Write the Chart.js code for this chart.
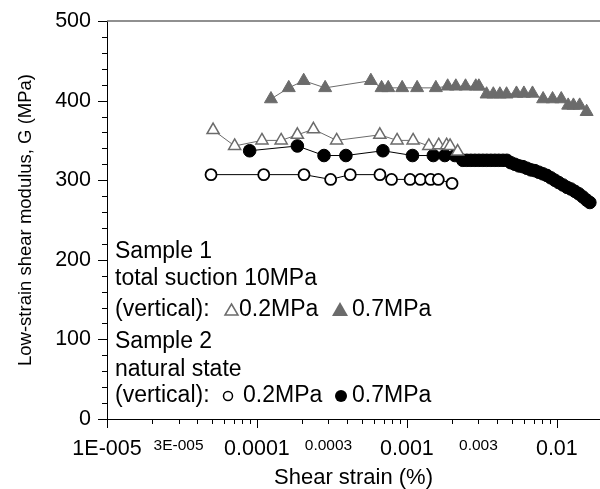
<!DOCTYPE html>
<html>
<head>
<meta charset="utf-8">
<script src="https://cdn.jsdelivr.net/npm/chart.js@4.4.0/dist/chart.umd.min.js"></script>
<style>
  body { margin: 0; background: #fff; }
  canvas { display: block; }
</style>
</head>
<body>
<canvas id="shearChart" width="600" height="489"></canvas>
<script>

// Sample 1, total suction 10MPa, vertical 0.2MPa (open triangles)
const s1LowStrain = [5.1e-5, 7.1e-5, 1.08e-4, 1.45e-4, 1.86e-4, 2.38e-4, 3.4e-4, 6.6e-4, 8.6e-4, 1.1e-3, 1.4e-3, 1.63e-3, 1.84e-3, 1.94e-3, 2.18e-3];
const s1LowG = [363, 343, 350, 350, 357, 364, 350, 357, 350, 350, 343, 344, 344, 343, 336];

// Sample 1, vertical 0.7MPa (filled triangles)
const s1HighStrain = [1.24e-4, 1.63e-4, 2.05e-4, 2.85e-4, 5.75e-4, 6.78e-4, 7.51e-4, 9.3e-4, 1.17e-3, 1.56e-3, 1.87e-3, 2.12e-3, 2.46e-3, 2.88e-3, 3.02e-3, 3.4e-3, 3.77e-3, 4.17e-3, 4.62e-3, 5.38e-3, 6.03e-3, 6.88e-3, 8.1e-3, 9.36e-3, 1.07e-2, 1.19e-2, 1.29e-2, 1.42e-2, 1.58e-2];
const s1HighG = [402, 416, 425, 416, 425, 416, 416, 416, 416, 416, 418, 418, 418, 418, 418, 408, 408, 408, 408, 409, 409, 409, 402, 402, 402, 394, 394, 394, 386];

// Sample 2, natural state, vertical 0.2MPa (open circles)
const s2LowStrain = [4.94e-5, 1.11e-4, 2.06e-4, 3.1e-4, 4.19e-4, 6.61e-4, 7.9e-4, 1.05e-3, 1.23e-3, 1.44e-3, 1.62e-3, 2.0e-3];
const s2LowG = [307, 307, 307, 301, 307, 307, 301, 301, 301, 301, 301, 296];

// Sample 2, vertical 0.7MPa (filled circles)
const s2HighStrain = [8.94e-5, 1.86e-4, 2.8e-4, 3.92e-4, 6.92e-4, 1.09e-3, 1.5e-3, 1.79e-3, 2.09e-3,
  2.36e-3, 2.51e-3, 2.67e-3, 2.84e-3, 3.02e-3, 3.21e-3, 3.41e-3, 3.63e-3, 3.86e-3, 4.1e-3, 4.37e-3, 4.64e-3,
  4.93e-3, 5.25e-3, 5.58e-3, 5.93e-3, 6.31e-3, 6.71e-3, 7.13e-3, 7.59e-3, 8.07e-3, 8.58e-3, 9.12e-3, 9.7e-3,
  1.03e-2, 1.1e-2, 1.17e-2, 1.24e-2, 1.32e-2, 1.4e-2, 1.49e-2, 1.58e-2, 1.66e-2];
const s2HighG = [337, 343, 331, 331, 337, 331, 331, 331, 331,
  325, 325, 325, 325, 325, 325, 325, 325, 325, 325, 325, 325,
  322, 320, 318, 317, 315, 313, 312, 310, 308, 306, 303, 300,
  297, 294, 291, 289, 286, 283, 279, 275, 272];

const xTickValues = [1e-5, 3e-5, 1e-4, 3e-4, 1e-3, 3e-3, 1e-2];
const xTickLabels = ['1E-005', '3E-005', '0.0001', '0.0003', '0.001', '0.003', '0.01'];
const xMajorTicks = [1e-5, 1e-4, 1e-3, 1e-2];

const FONT = "'Liberation Sans', Arial, sans-serif";
const GREY = '#6b6b6b';

function toPoints(xs, ys) {
  return xs.map((x, i) => ({ x: x, y: ys[i] }));
}

// tick marks (long on decades / hundreds, short otherwise) and the grey top frame line
const tickMarks = {
  id: 'tickMarks',
  afterDraw(chart) {
    const ctx = chart.ctx;
    const xs = chart.scales.x;
    const ys = chart.scales.y;
    const area = chart.chartArea;
    ctx.save();
    ctx.strokeStyle = '#000';
    ctx.lineWidth = 1;
    for (let d = -5; d <= -2; d++) {
      for (let m = 1; m <= 9; m++) {
        const v = m * Math.pow(10, d);
        if (v > xs.max) break;
        const px = Math.round(xs.getPixelForValue(v)) + 0.5;
        const len = m === 1 ? 9 : 5;
        ctx.beginPath();
        ctx.moveTo(px, area.bottom);
        ctx.lineTo(px, area.bottom + len);
        ctx.stroke();
      }
    }
    for (let v = 0; v <= 500; v += 20) {
      const py = Math.round(ys.getPixelForValue(v)) + 0.5;
      const len = v % 100 === 0 ? 9 : 5;
      ctx.beginPath();
      ctx.moveTo(area.left, py);
      ctx.lineTo(area.left - len, py);
      ctx.stroke();
    }
    ctx.strokeStyle = GREY;
    ctx.lineWidth = 1.5;
    ctx.beginPath();
    ctx.moveTo(area.left, area.top);
    ctx.lineTo(area.right, area.top);
    ctx.stroke();
    ctx.restore();
  }
};

// the in-plot legend block
const noteBlock = {
  id: 'noteBlock',
  afterDraw(chart) {
    const ctx = chart.ctx;
    ctx.save();
    ctx.font = '23px ' + FONT;
    ctx.fillStyle = '#000';
    ctx.textBaseline = 'middle';
    ctx.textAlign = 'left';
    ctx.fillText('Sample 1', 115, 252);
    ctx.fillText('total suction 10MPa', 115, 279);
    ctx.fillText('(vertical):', 115, 310);
    ctx.fillText('0.2MPa', 239, 310);
    ctx.fillText('0.7MPa', 352, 310);
    ctx.fillText('Sample 2', 115, 342);
    ctx.fillText('natural state', 115, 370);
    ctx.fillText('(vertical):', 115, 396);
    ctx.fillText('0.2MPa', 243, 396);
    ctx.fillText('0.7MPa', 352, 396);

    // open triangle
    ctx.strokeStyle = GREY;
    ctx.lineWidth = 1.5;
    ctx.beginPath();
    ctx.moveTo(231.5, 304);
    ctx.lineTo(238, 315);
    ctx.lineTo(225, 315);
    ctx.closePath();
    ctx.stroke();
    // filled triangle
    ctx.fillStyle = GREY;
    ctx.beginPath();
    ctx.moveTo(340, 302);
    ctx.lineTo(348, 316);
    ctx.lineTo(332, 316);
    ctx.closePath();
    ctx.fill();
    // open circle
    ctx.strokeStyle = '#000';
    ctx.beginPath();
    ctx.arc(228, 396, 4.5, 0, Math.PI * 2);
    ctx.stroke();
    // filled circle
    ctx.fillStyle = '#000';
    ctx.beginPath();
    ctx.arc(341, 396, 6, 0, Math.PI * 2);
    ctx.fill();
    ctx.restore();
  }
};

new Chart(document.getElementById('shearChart'), {
  type: 'scatter',
  data: {
    datasets: [
      {
        label: 'Sample 1 0.2MPa',
        data: toPoints(s1LowStrain, s1LowG),
        showLine: true,
        borderColor: GREY,
        borderWidth: 1,
        pointStyle: 'triangle',
        pointRadius: 7,
        pointBorderWidth: 1.5,
        pointBorderColor: GREY,
        pointBackgroundColor: '#fff'
      },
      {
        label: 'Sample 1 0.7MPa',
        data: toPoints(s1HighStrain, s1HighG),
        showLine: true,
        borderColor: GREY,
        borderWidth: 1,
        pointStyle: 'triangle',
        pointRadius: 7.5,
        pointBorderWidth: 1,
        pointBorderColor: GREY,
        pointBackgroundColor: GREY
      },
      {
        label: 'Sample 2 0.2MPa',
        data: toPoints(s2LowStrain, s2LowG),
        showLine: true,
        borderColor: '#000',
        borderWidth: 1,
        pointStyle: 'circle',
        pointRadius: 5.5,
        pointBorderWidth: 1.8,
        pointBorderColor: '#000',
        pointBackgroundColor: '#fff'
      },
      {
        label: 'Sample 2 0.7MPa',
        data: toPoints(s2HighStrain, s2HighG),
        showLine: true,
        borderColor: '#000',
        borderWidth: 1,
        pointStyle: 'circle',
        pointRadius: 6.3,
        pointBorderWidth: 1,
        pointBorderColor: '#000',
        pointBackgroundColor: '#000'
      }
    ]
  },
  options: {
    responsive: false,
    animation: false,
    layout: { autoPadding: false, padding: { top: 21, right: 0, left: 0, bottom: 0 } },
    plugins: { legend: { display: false }, tooltip: { enabled: false } },
    scales: {
      x: {
        type: 'logarithmic',
        min: 1e-5,
        max: 0.0194,
        afterFit: (s) => { s.height = 70; s.paddingLeft = 0; s.paddingRight = 0; },
        afterBuildTicks: (s) => { s.ticks = xTickValues.map(v => ({ value: v })); },
        border: { display: true, color: '#000', width: 1 },
        grid: { drawOnChartArea: false, drawTicks: true, tickLength: 9, tickColor: 'rgba(0,0,0,0)' },
        ticks: {
          autoSkip: false,
          maxRotation: 0,
          padding: 8,
          color: '#000',
          font: (c) => ({ family: FONT, size: (c.tick && xMajorTicks.includes(c.tick.value)) ? 21.5 : 15.5 }),
          callback: (v) => {
            const i = xTickValues.indexOf(v);
            return i >= 0 ? xTickLabels[i] : '';
          }
        },
        title: {
          display: true,
          text: 'Shear strain (%)',
          color: '#000',
          font: { family: FONT, size: 22, lineHeight: 1 },
          padding: { top: 0, bottom: 0 }
        }
      },
      y: {
        min: 0,
        max: 500,
        afterFit: (s) => { s.width = 107; },
        border: { display: true, color: '#000', width: 1 },
        grid: { drawOnChartArea: false, drawTicks: true, tickLength: 9, tickColor: 'rgba(0,0,0,0)' },
        ticks: {
          stepSize: 100,
          padding: 7,
          color: '#000',
          font: { family: FONT, size: 21.5 }
        },
        title: {
          display: true,
          text: 'Low-strain shear modulus, G (MPa)',
          color: '#000',
          font: { family: FONT, size: 18.5 },
          padding: { top: 14.5, bottom: 0 }
        }
      }
    }
  },
  plugins: [tickMarks, noteBlock]
});
</script>
</body>
</html>
